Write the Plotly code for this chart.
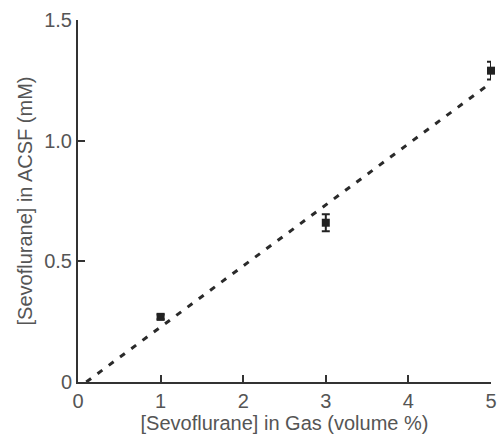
import plotly.graph_objects as go

gas_pct = [1, 3, 5]
acsf_mM = [0.27, 0.66, 1.29]
acsf_err = [0.01, 0.035, 0.037]
fit_x = [0.1, 5]
fit_y = [0.0, 1.24]

fig = go.Figure()
fig.add_trace(go.Scatter(
    x=fit_x, y=fit_y, mode="lines",
    line=dict(color="#2a2a2a", width=3, dash="6px,8px"),
    showlegend=False, hoverinfo="skip", cliponaxis=False))
fig.add_trace(go.Scatter(
    x=gas_pct, y=acsf_mM, mode="markers",
    marker=dict(symbol="square", size=8, color="#222222"),
    error_y=dict(type="data", array=acsf_err, color="#222222", thickness=2, width=4),
    showlegend=False, cliponaxis=False))

font = "Liberation Sans, Arial, sans-serif"
fig.update_layout(
    width=499, height=437,
    margin=dict(l=78, r=8, t=20, b=55),
    paper_bgcolor="white", plot_bgcolor="white",
    font=dict(family=font, color="#555555", size=20),
    xaxis=dict(range=[0, 5], tickvals=[0, 1, 2, 3, 4, 5], ticktext=["0", "1", "2", "3", "4", "5"],
               ticks="inside", ticklen=7, tickwidth=2, tickcolor="#333333", automargin=False,
               showline=True, linecolor="#333333", linewidth=2, showgrid=False, zeroline=False,
               title=dict(text="[Sevoflurane] in Gas (volume %)", font=dict(size=20), standoff=0),
               tickfont=dict(size=20)),
    yaxis=dict(range=[0, 1.5], tickvals=[0, 0.5, 1.0, 1.5], ticktext=["0", "0.5", "1.0", "1.5"],
               ticks="inside", ticklen=7, tickwidth=2, tickcolor="#333333", automargin=False,
               showline=True, linecolor="#333333", linewidth=2, showgrid=False, zeroline=False,
               title=dict(text="[Sevoflurane] in ACSF (mM)", font=dict(size=20), standoff=6),
               tickfont=dict(size=20)),
)
fig.write_html("out.html", config={"displayModeBar": False},
               post_script="document.body.style.margin='0';document.body.style.overflow='hidden';")
